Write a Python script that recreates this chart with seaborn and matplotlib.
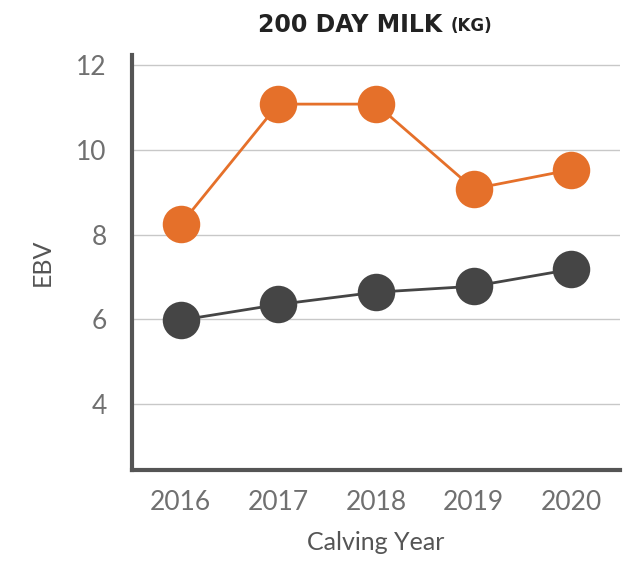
import matplotlib
matplotlib.use("Agg")
import matplotlib.pyplot as plt
import seaborn as sns
import pandas as pd

# --- Data ---
years = [2016, 2017, 2018, 2019, 2020]
orange_ebv = [8.24, 11.08, 11.08, 9.08, 9.53]
dark_ebv = [5.98, 6.35, 6.64, 6.78, 7.18]
y_ticks = [4, 6, 8, 10, 12]

ORANGE = '#E5702A'
DARK = '#454545'

sns.set_style('white')
plt.rcParams['font.family'] = ['Lato', 'DejaVu Sans']

df = pd.DataFrame({
    'Calving Year': years * 2,
    'EBV': orange_ebv + dark_ebv,
    'series': ['a'] * len(years) + ['b'] * len(years),
})

fig = plt.figure(figsize=(6.34, 5.61), dpi=100)
ax = fig.add_axes([0.208, 0.162, 0.770, 0.740])

sns.lineplot(data=df, x='Calving Year', y='EBV', hue='series',
             palette={'a': ORANGE, 'b': DARK}, marker='o', markersize=27,
             markeredgewidth=0, linewidth=2, legend=False, ax=ax, zorder=3)

ax.set_xlim(2015.5, 2020.5)
ax.set_ylim(2.44, 12.24)
ax.set_xticks(years)
ax.set_yticks(y_ticks)
ax.set_xticklabels([str(y) for y in years], fontsize=19, color='#707070')
ax.set_yticklabels([str(t) for t in y_ticks], fontsize=19, color='#707070')

ax.grid(axis='y', color='#c8c8c8', linewidth=1)
ax.set_axisbelow(True)
ax.tick_params(axis='y', length=14, width=1, color='#c8c8c8', pad=4)
ax.tick_params(axis='x', length=0, pad=14)

for side in ['top', 'right']:
    ax.spines[side].set_visible(False)
for side in ['left', 'bottom']:
    ax.spines[side].set_color('#555555')
    ax.spines[side].set_linewidth(3)

ax.set_xlabel('Calving Year', fontsize=18, color='#555555', labelpad=12)
ax.set_ylabel('EBV', fontsize=18, color='#555555', labelpad=16)

# --- Title ---
t = fig.text(0.71, 0.955, '200 DAY MILK ', ha='right', va='center',
             fontsize=17, fontweight='bold', color='#222222', family='DejaVu Sans')
ax.annotate('(KG)', xy=(1, 0.08), xycoords=t, ha='left', va='bottom',
            fontsize=12, fontweight='bold', color='#222222', family='DejaVu Sans')

fig.savefig('out.png', dpi=100)
